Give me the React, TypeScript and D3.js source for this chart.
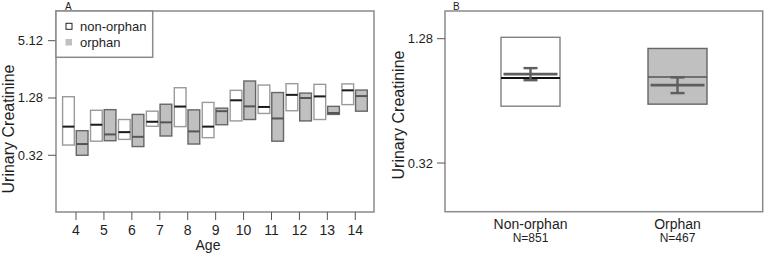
import React from "react";
import * as d3 from "d3";

// ---- Panel A data (by age) ----
const ages = [4, 5, 6, 7, 8, 9, 10, 11, 12, 13, 14];
const nonOrphanQ1 = [0.41, 0.45, 0.47, 0.645, 0.64, 0.49, 0.735, 0.88, 0.94, 0.76, 1.09];
const nonOrphanMedian = [0.64, 0.67, 0.56, 0.72, 1.04, 0.64, 1.21, 1.03, 1.38, 1.33, 1.54];
const nonOrphanQ3 = [1.32, 0.95, 0.76, 0.93, 1.64, 1.15, 1.54, 1.75, 1.81, 1.78, 1.8];
const orphanQ1 = [0.32, 0.455, 0.395, 0.51, 0.42, 0.67, 0.76, 0.45, 0.735, 0.86, 0.93];
const orphanMedian = [0.42, 0.53, 0.5, 0.71, 0.57, 0.93, 1.045, 0.78, 1.28, 0.89, 1.34];
const orphanQ3 = [0.58, 0.965, 0.86, 1.1, 0.96, 1.0, 1.93, 1.46, 1.44, 1.045, 1.55];

const leftTicks = [0.32, 1.28, 5.12];
const legendLabels = ["non-orphan", "orphan"];

// ---- Panel B data (overall) ----
const groups = ["Non-orphan", "Orphan"];
const groupN = [851, 467];
const groupQ1 = [0.603, 0.617];
const groupMedian = [0.825, 0.835];
const groupQ3 = [1.3, 1.148];
const groupMean = [0.862, 0.763];
const groupCiLow = [0.806, 0.698];
const groupCiHigh = [0.922, 0.831];

const rightTicks = [0.32, 1.28];

const FONT = "'Liberation Sans', Arial, Helvetica, sans-serif";
const FRAME = "#8a8a8a";
const TEXT = "#1e1e1e";
const FILL = "#c0c0c0";

export default function App() {
  // Panel A geometry
  const aL = 56, aR = 374, aT = 11, aB = 212;
  const xA = d3.scaleLinear().domain([3.284, 14.67]).range([aL, aR]);
  const yA = d3.scaleLog().base(2).domain([0.0811, 10.5]).range([aB, aT]);

  // Panel B geometry
  const bL = 445, bR = 762.7, bT = 11, bB = 211.7;
  const xB = d3.scaleLinear().domain([0, 1]).range([530.5, 677.5]);
  const yB = d3.scaleLog().base(2).domain([0.186, 1.743]).range([bB, bT]);

  const boxW = 59, meanW = 54, capW = 14;

  return (
    <svg
      width={764}
      height={255}
      style={{ position: "absolute", left: 0, top: 0, background: "#fff" }}
      fontFamily={FONT}
    >
      {/* ===== Panel A ===== */}
      <text x={65} y={9.5} fontSize={10} fill={TEXT}>A</text>
      {ages.map((a, i) => {
        const x0 = xA(a - 0.48), x1 = xA(a - 0.06);
        const o0 = xA(a + 0.01), o1 = xA(a + 0.43);
        return (
          <g key={a}>
            <rect
              x={x0}
              y={yA(nonOrphanQ3[i])}
              width={x1 - x0}
              height={yA(nonOrphanQ1[i]) - yA(nonOrphanQ3[i])}
              fill="#fff"
              stroke="#9a9a9a"
              strokeWidth={1.4}
            />
            <line x1={x0} x2={x1} y1={yA(nonOrphanMedian[i])} y2={yA(nonOrphanMedian[i])} stroke="#1a1a1a" strokeWidth={2} />
            <rect
              x={o0}
              y={yA(orphanQ3[i])}
              width={o1 - o0}
              height={yA(orphanQ1[i]) - yA(orphanQ3[i])}
              fill={FILL}
              stroke="#666"
              strokeWidth={1.4}
            />
            <line x1={o0} x2={o1} y1={yA(orphanMedian[i])} y2={yA(orphanMedian[i])} stroke="#555" strokeWidth={2} />
          </g>
        );
      })}
      <rect x={aL} y={aT} width={aR - aL} height={aB - aT} fill="none" stroke={FRAME} strokeWidth={1.5} />
      {/* y axis A */}
      {leftTicks.map((t) => (
        <g key={t}>
          <line x1={aL - 8} x2={aL} y1={yA(t)} y2={yA(t)} stroke="#555" strokeWidth={1} />
          <text x={aL - 13} y={yA(t) + 4.5} fontSize={13} textAnchor="end" fill={TEXT}>
            {t.toFixed(2)}
          </text>
        </g>
      ))}
      {/* x axis A */}
      {ages.map((a) => (
        <g key={"t" + a}>
          <line x1={xA(a)} x2={xA(a)} y1={aB} y2={aB + 8} stroke="#555" strokeWidth={1} />
          <text x={xA(a)} y={235} fontSize={14} textAnchor="middle" fill={TEXT}>{a}</text>
        </g>
      ))}
      <text x={208} y={250} fontSize={14} textAnchor="middle" fill={TEXT}>Age</text>
      <text
        transform={`translate(13.5,129) rotate(-90)`}
        fontSize={16}
        textAnchor="middle"
        fill={TEXT}
      >
        Urinary Creatinine
      </text>
      {/* legend */}
      <rect x={aL} y={aT} width={96.7} height={46.3} fill="#fff" stroke={FRAME} strokeWidth={1.5} />
      <rect x={66} y={23.3} width={6} height={6} fill="#fff" stroke="#222" strokeWidth={1} />
      <rect x={65.5} y={39} width={6.5} height={6.5} fill={FILL} />
      <text x={80} y={30.8} fontSize={13} fill={TEXT}>{legendLabels[0]}</text>
      <text x={80} y={46.5} fontSize={13} fill={TEXT}>{legendLabels[1]}</text>

      {/* ===== Panel B ===== */}
      <text x={453} y={9.5} fontSize={10} fill={TEXT}>B</text>
      {groups.map((g, i) => {
        const cx = xB(i);
        const isOrphan = i === 1;
        return (
          <g key={g}>
            <rect
              x={cx - boxW / 2}
              y={yB(groupQ3[i])}
              width={boxW}
              height={yB(groupQ1[i]) - yB(groupQ3[i])}
              fill={isOrphan ? FILL : "#fff"}
              stroke={isOrphan ? "#666" : "#808080"}
              strokeWidth={1.4}
            />
            <line
              x1={cx - boxW / 2}
              x2={cx + boxW / 2}
              y1={yB(groupMedian[i])}
              y2={yB(groupMedian[i])}
              stroke={isOrphan ? "#555" : "#111"}
              strokeWidth={isOrphan ? 1.5 : 2}
            />
            <line
              x1={cx - meanW / 2}
              x2={cx + meanW / 2}
              y1={yB(groupMean[i])}
              y2={yB(groupMean[i])}
              stroke="#5e5e5e"
              strokeWidth={2.6}
            />
            <line x1={cx} x2={cx} y1={yB(groupCiHigh[i])} y2={yB(groupCiLow[i])} stroke="#5e5e5e" strokeWidth={2.4} />
            <line x1={cx - capW / 2} x2={cx + capW / 2} y1={yB(groupCiHigh[i])} y2={yB(groupCiHigh[i])} stroke="#5e5e5e" strokeWidth={2.4} />
            <line x1={cx - capW / 2} x2={cx + capW / 2} y1={yB(groupCiLow[i])} y2={yB(groupCiLow[i])} stroke="#5e5e5e" strokeWidth={2.4} />
            <text x={cx} y={228.5} fontSize={14} textAnchor="middle" fill={TEXT}>{g}</text>
            <text x={cx} y={242} fontSize={12} textAnchor="middle" fill={TEXT}>{"N=" + groupN[i]}</text>
          </g>
        );
      })}
      <rect x={bL} y={bT} width={bR - bL} height={bB - bT} fill="none" stroke={FRAME} strokeWidth={1.5} />
      {rightTicks.map((t) => (
        <g key={t}>
          <line x1={bL - 8} x2={bL} y1={yB(t)} y2={yB(t)} stroke="#555" strokeWidth={1} />
          <text x={bL - 12} y={yB(t) + 4.5} fontSize={13} textAnchor="end" fill={TEXT}>
            {t.toFixed(2)}
          </text>
        </g>
      ))}
      <text
        transform={`translate(403.5,115) rotate(-90)`}
        fontSize={16}
        textAnchor="middle"
        fill={TEXT}
      >
        Urinary Creatinine
      </text>
    </svg>
  );
}
